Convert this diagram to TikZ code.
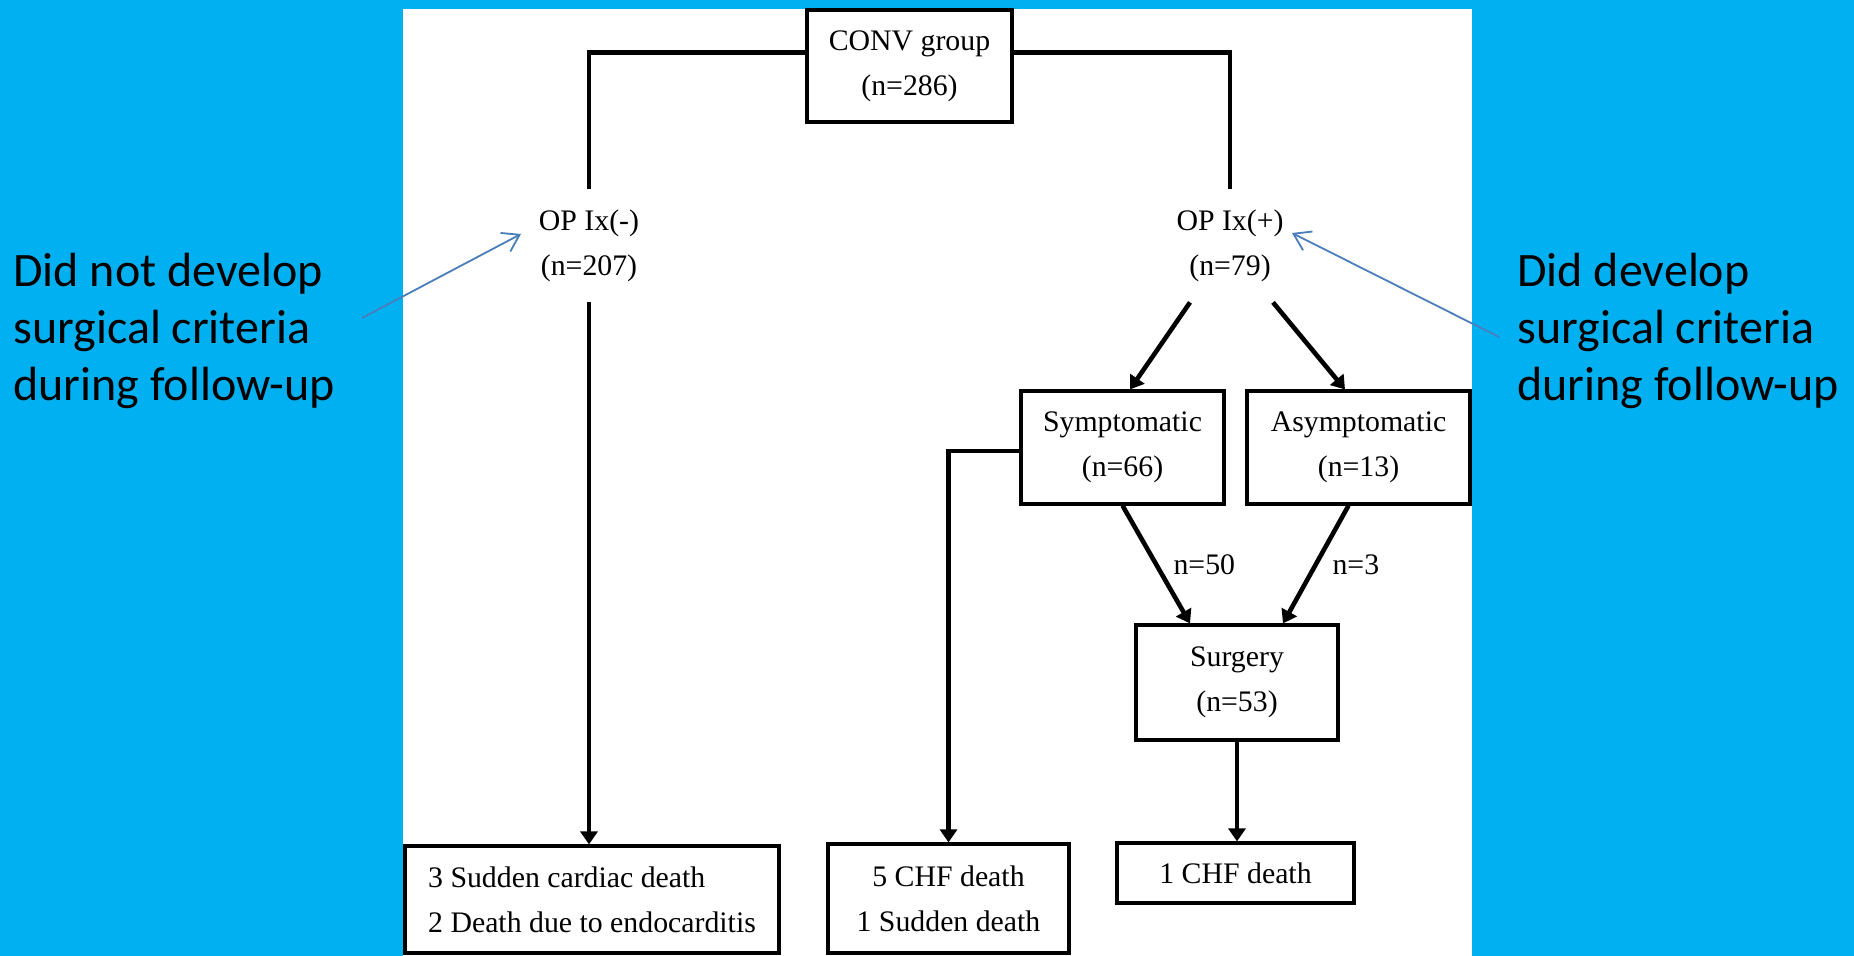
\documentclass[tikz,border=0pt]{standalone}
\usepackage{fontspec}
\setmainfont{Liberation Serif}
\newfontfamily\notefont{Carlito}
\usetikzlibrary{arrows.meta,calc}
\definecolor{slidebg}{RGB}{0,176,240}
\definecolor{calloutblue}{RGB}{74,126,187}
\begin{document}
\begin{tikzpicture}[x=0.5pt,y=-0.5pt,
  flowfont/.style={font=\fontsize{14.9pt}{22.5pt}\selectfont},
  box/.style={draw, line width=1.6pt, align=center, inner sep=0pt, flowfont},
  optext/.style={align=center, inner sep=0pt, minimum height=56.5pt, flowfont},
  conn/.style={line width=2.3pt},
  arr/.style={line width=2.3pt, -{Triangle[length=6.5pt,width=8.5pt]}},
  edgetext/.style={inner sep=0pt, anchor=west, flowfont},
  note/.style={align=left, inner sep=0pt, anchor=west, font=\notefont\fontsize{24pt}{28.5pt}\selectfont},
  callout/.style={draw=calloutblue, line width=0.9pt, -{Straight Barb[length=8pt,width=10.5pt]}}]

% slide background and white figure panel
\fill[slidebg] (0,0) rectangle (1854,956);
\fill[white] (403,9) rectangle (1472,956);
\useasboundingbox (0,0) rectangle (1854,956);

% flowchart boxes
\node[box, minimum width=102.5pt, minimum height=56pt] (conv) at (909.5,66) {CONV group\\(n=286)};
\node[optext] (opm) at (589,245.5) {OP Ix(-)\\(n=207)};
\node[optext] (opp) at (1230,245.5) {OP Ix(+)\\(n=79)};
\node[box, minimum width=101.5pt, minimum height=56.5pt] (sym) at (1122.5,447.5) {Symptomatic\\(n=66)};
\node[box, minimum width=111.5pt, minimum height=56.5pt] (asym) at (1358.5,447.5) {Asymptomatic\\(n=13)};
\node[box, minimum width=101pt, minimum height=57.5pt] (surg) at (1237,682.5) {Surgery\\(n=53)};
\node[box, minimum width=118.5pt, minimum height=30pt] (chf1) at (1235.5,873) {1 CHF death};
\node[box, align=left, minimum width=187pt, minimum height=53.5pt] (deathA) at (592,899.5) {3 Sudden cardiac death\\2 Death due to endocarditis};
\node[box, minimum width=120.5pt, minimum height=54.5pt] (chf5) at (948.5,898.5) {5 CHF death\\1 Sudden death};

% connectors
\draw[conn] ($(conv.north west)!0.384!(conv.south west)$) -| (opm.north);
\draw[conn] ($(conv.north east)!0.384!(conv.south east)$) -| (opp.north);
\draw[arr] (opm.south) -- (opm.south |- deathA.north);
\draw[arr] ([xshift=-20pt]opp.south) -- ([xshift=3.75pt]sym.north);
\draw[arr] ([xshift=21.5pt]opp.south) -- ([xshift=-6.75pt]asym.north);
\draw[arr] ($(sym.north west)!0.531!(sym.south west)$) -| (chf5.north);
\draw[arr] (sym.south) -- ([xshift=-23.5pt]surg.north)
  node[edgetext, pos=0.5, xshift=7.5pt] {n=50};
\draw[arr] ([xshift=-5pt]asym.south) -- ([xshift=23pt]surg.north)
  node[edgetext, pos=0.5, xshift=7.25pt] {n=3};
\draw[arr] (surg.south) -- (surg.south |- chf1.north);

% side notes with pointers
\node[note] (noteL) at (13,331) {Did not develop\\surgical criteria\\during follow-up};
\node[note] (noteR) at (1517,331) {Did develop\\surgical criteria\\during follow-up};
\coordinate (ptrL) at (362,318);
\coordinate (tipL) at (521,234);
\coordinate (ptrR) at (1499,337);
\coordinate (tipR) at (1292,233);
\draw[callout] (ptrL) -- (tipL);
\draw[callout] (ptrR) -- (tipR);
\end{tikzpicture}
\end{document}
